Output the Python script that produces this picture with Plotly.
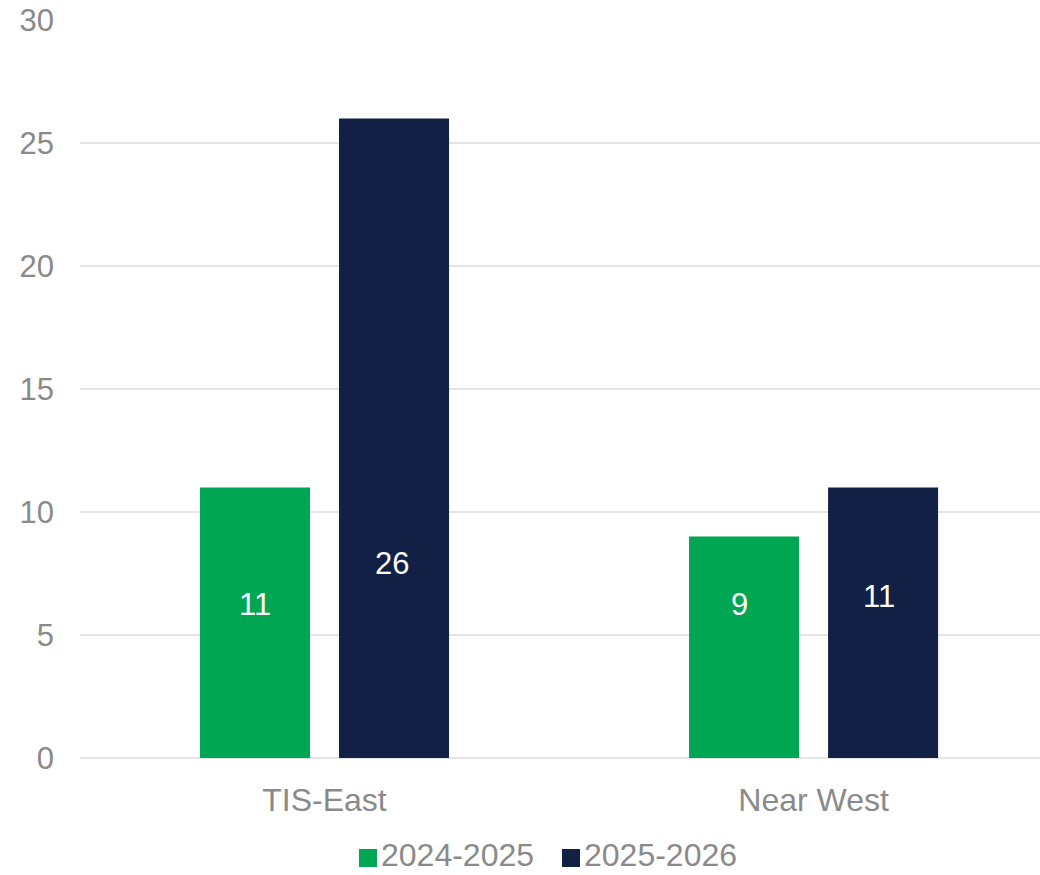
import plotly.graph_objects as go

# Regions and yearly counts
regions = ["TIS-East", "Near West"]
counts_2024_2025 = [11, 9]
counts_2025_2026 = [26, 11]
series_names = ["2024-2025", "2025-2026"]
y_ticks = [0, 5, 10, 15, 20, 25, 30]

GREEN = "#00A651"
NAVY = "#112044"
GREY_TEXT = "#8A8A8A"
FONT = "Liberation Sans, Arial, sans-serif"
FS = 31
FS_CAT = 32

W, H = 1040, 875
ML, MR, MT, MB = 80, 0, 20, 117
PW, PH = W - ML - MR, H - MT - MB

fig = go.Figure()
series = [
    (series_names[0], counts_2024_2025, GREEN),
    (series_names[1], counts_2025_2026, NAVY),
]
for name, vals, color in series:
    fig.add_trace(go.Bar(
        name=name,
        x=regions,
        y=vals,
        marker=dict(color=color, line=dict(width=0)),
        showlegend=False,
    ))

# Value labels sit a bit below the middle of each bar
label_height = [[6.24, 6.26], [7.91, 6.57]]
label_xshift = [[0, -5], [-2, -4]]
offsets = [-0.1421, 0.1421]
for s, (_, vals, _) in enumerate(series):
    for i, v in enumerate(vals):
        fig.add_annotation(
            x=i + offsets[s], y=label_height[s][i], xref="x", yref="y",
            xshift=label_xshift[s][i],
            text=str(v), showarrow=False,
            font=dict(family=FONT, size=FS, color="white"),
        )

# Legend: square swatch followed by the series name
legend_x = [359, 562]
sw = 18
sw_top = 849
text_mid = 855
for (name, _, color), lx in zip(series, legend_x):
    x0 = (lx - ML) / PW
    x1 = (lx + sw - ML) / PW
    y0 = (H - MB - sw_top) / PH
    y1 = (H - MB - sw_top - sw) / PH
    fig.add_shape(type="rect", xref="paper", yref="paper",
                  x0=x0, x1=x1, y0=y1, y1=y0,
                  fillcolor=color, line=dict(width=0))
    fig.add_annotation(
        x=(lx + sw + 3 - ML) / PW, y=(H - MB - text_mid) / PH,
        xref="paper", yref="paper", xanchor="left", yanchor="middle",
        borderpad=0,
        text=name, showarrow=False,
        font=dict(family=FONT, size=FS_CAT, color=GREY_TEXT),
    )

fig.update_layout(
    width=W, height=H,
    margin=dict(l=ML, r=MR, t=MT, b=MB, autoexpand=False),
    paper_bgcolor="white",
    plot_bgcolor="white",
    barmode="group",
    bargap=0.4315,
    bargroupgap=0.2086,
    font=dict(family=FONT, size=FS, color=GREY_TEXT),
    showlegend=False,
)
fig.update_xaxes(
    type="category",
    range=[-0.5, 1.463],
    showgrid=False,
    showline=False,
    zeroline=False,
    ticks="",
    automargin=False,
    tickfont=dict(family=FONT, size=FS_CAT, color=GREY_TEXT),
    ticklabelstandoff=20,
)
fig.update_yaxes(
    range=[0, 30],
    tickvals=y_ticks,
    showgrid=True,
    gridcolor="#E4E4E4",
    gridwidth=2,
    zeroline=True,
    zerolinecolor="#E4E4E4",
    zerolinewidth=2,
    showline=False,
    ticks="",
    automargin=False,
    tickfont=dict(family=FONT, size=FS, color=GREY_TEXT),
    ticklabelstandoff=25,
)

fig.write_html("out.html")
